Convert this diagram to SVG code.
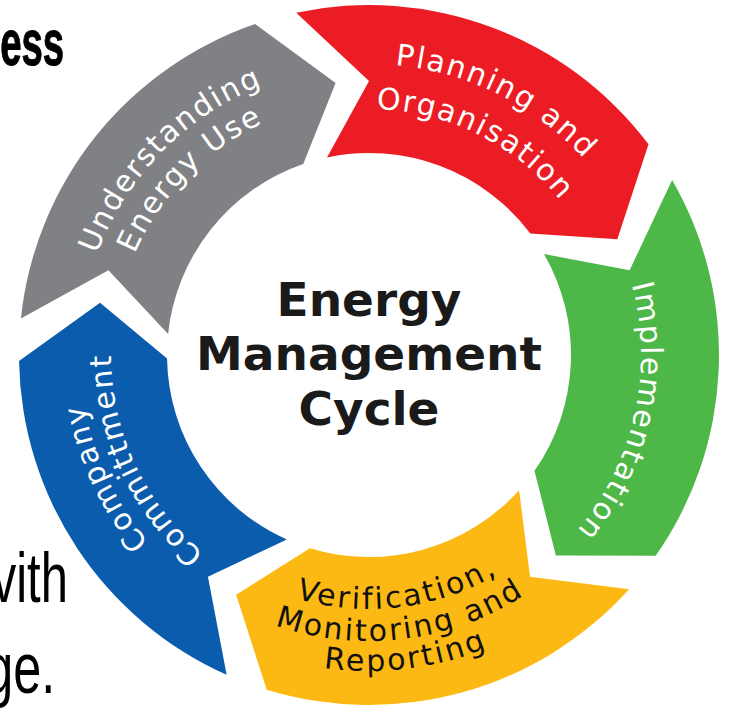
<svg xmlns="http://www.w3.org/2000/svg" xmlns:xlink="http://www.w3.org/1999/xlink" width="729" height="708" viewBox="0 0 729 708">
<style>
.lbl{font-family:"DejaVu Sans",Verdana,sans-serif;font-size:30px;letter-spacing:1.8px}
.ly{letter-spacing:2.5px}
.w{fill:#ffffff}
.k{fill:#111111}
.title{font-family:"DejaVu Sans",Verdana,sans-serif;font-weight:bold;font-size:47px;fill:#1a1a1a;text-anchor:middle}
.slide{font-family:"Liberation Sans",Arial,sans-serif;fill:#000000;text-anchor:end}
</style>
<defs>
<path id="pg1" d="M132.91,523.40 A290,290 0 0 1 533.26,116.0"/>
<path id="pg2" d="M161.40,503.08 A255,255 0 0 1 513.43,144.85"/>
<path id="pr1" d="M135.08,181.91 A291,291 0 0 1 648.02,437.65"/>
<path id="pr2" d="M171.25,208.67 A246,246 0 0 1 604.87,424.87"/>
<path id="pgr" d="M474.19,104.16 A272,272 0 0 1 355.95,626.69"/>
<path id="py1" d="M126.10,429.26 A254,254 0 0 0 622.65,368.29"/>
<path id="py2" d="M95.50,438.62 A286,286 0 0 0 654.61,369.97"/>
<path id="py3" d="M66.81,447.39 A316,316 0 0 0 684.57,371.54"/>
<path id="pb1" d="M443.80,634.15 A289,289 0 0 1 203.24,118.27"/>
<path id="pb2" d="M435.78,604.21 A258,258 0 0 1 221.02,143.66"/>
</defs>
<rect width="729" height="708" fill="#ffffff"/>

<g id="slide-text">
<text class="slide" transform="scale(0.6,1)" x="107" y="65" font-size="64" font-weight="bold" stroke="#000" stroke-width="1">ess</text>
<text class="slide" transform="scale(0.7,1)" x="97" y="602" font-size="70">vith</text>
<text class="slide" transform="scale(0.7,1)" x="79" y="693" font-size="72">ge.</text>
</g>

<g id="connectors"></g>

<g id="understanding">
<path fill="#808184" d="M20.92,318.41 A350,350 0 0 1 255.05,24.07 L335.61,83.04 L303.23,164.0 A202,202 0 0 0 168.11,333.88 L108.41,270.33 Z"/>
<text class="lbl w"><textPath xlink:href="#pg1" href="#pg1" startOffset="50%" text-anchor="middle">Understanding</textPath></text>
<text class="lbl w"><textPath xlink:href="#pg2" href="#pg2" startOffset="50%" text-anchor="middle">Energy Use</textPath></text>
</g>

<g id="planning">
<path fill="#ec1c24" d="M296.23,12.65 A350,350 0 0 1 648.52,144.36 L617.33,239.20 L530.33,233.43 A202,202 0 0 0 327.00,157.41 L369,81 Z"/>
<text class="lbl w"><textPath xlink:href="#pr1" href="#pr1" startOffset="50%" text-anchor="middle">Planning and</textPath></text>
<text class="lbl w"><textPath xlink:href="#pr2" href="#pr2" startOffset="50%" text-anchor="middle">Organisation</textPath></text>
</g>

<g id="implementation">
<path fill="#4db848" d="M672.11,180 A350,350 0 0 1 655.70,555.75 L555.87,555.39 L534.47,470.86 A202,202 0 0 0 543.94,254 L629.59,270.33 Z"/>
<text class="lbl w"><textPath xlink:href="#pgr" href="#pgr" startOffset="50%" text-anchor="middle">Implementation</textPath></text>
</g>

<g id="verification">
<path fill="#fdb913" d="M629.10,589.20 A350,350 0 0 1 266.67,689.71 L236.16,594.65 L309.94,548.17 A202,202 0 0 0 519.11,490.16 L530.05,576.67 Z"/>
<text class="lbl ly k"><textPath xlink:href="#py1" href="#py1" startOffset="50%" text-anchor="middle">Verification,</textPath></text>
<text class="lbl ly k"><textPath xlink:href="#py2" href="#py2" startOffset="50%" text-anchor="middle">Monitoring and</textPath></text>
<text class="lbl ly k"><textPath xlink:href="#py3" href="#py3" startOffset="50%" text-anchor="middle">Reporting</textPath></text>
</g>

<g id="commitment">
<path fill="#0b5cad" d="M226.64,674.74 A350,350 0 0 1 19.05,361.11 L100.03,302.72 L167.03,358.52 A202,202 0 0 0 286.84,539.54 L207.95,576.67 Z"/>
<text class="lbl w"><textPath xlink:href="#pb1" href="#pb1" startOffset="50%" text-anchor="middle">Company</textPath></text>
<text class="lbl w"><textPath xlink:href="#pb2" href="#pb2" startOffset="50%" text-anchor="middle">Committment</textPath></text>
</g>

<g id="center-title">
<text class="title" x="369" y="316">Energy</text>
<text class="title" x="369" y="370">Management</text>
<text class="title" x="369" y="425">Cycle</text>
</g>
</svg>
